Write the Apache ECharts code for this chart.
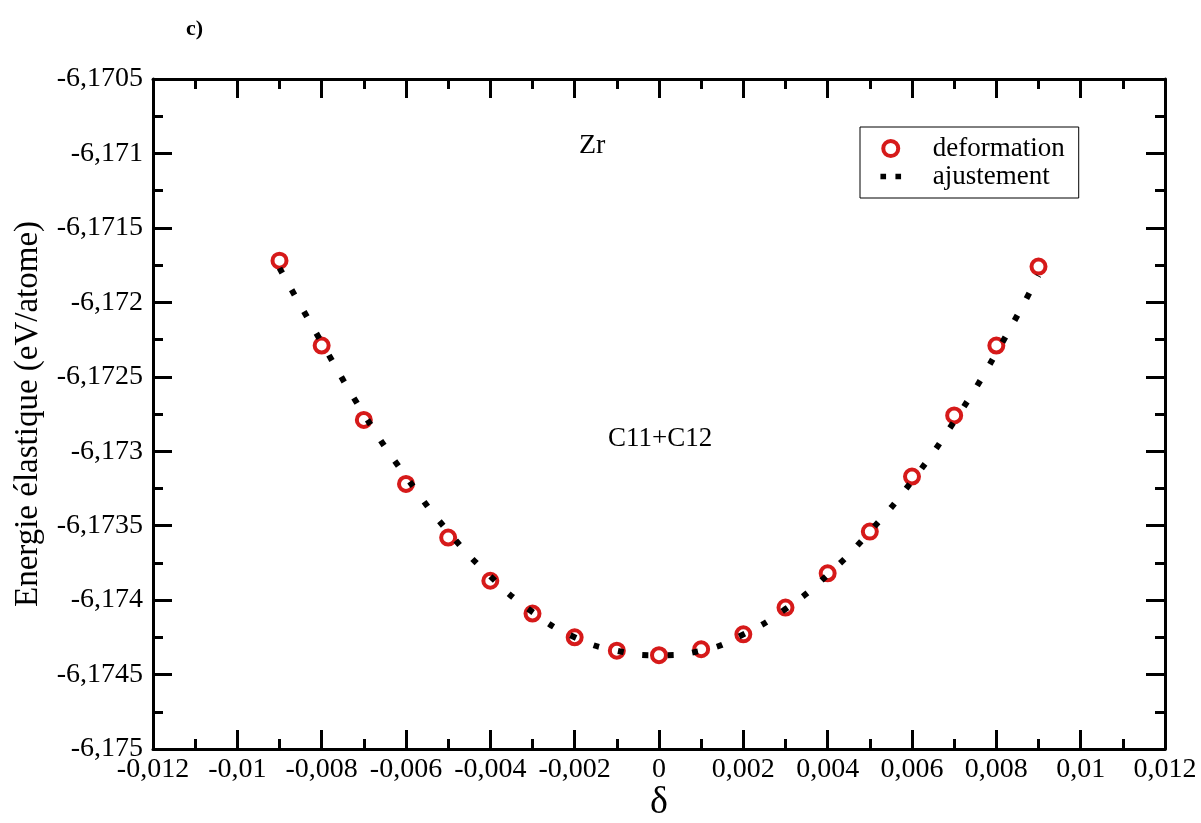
<!DOCTYPE html>
<html>
<head>
<meta charset="utf-8">
<title>Zr C11+C12</title>
<script src="https://cdn.jsdelivr.net/npm/echarts@6/dist/echarts.min.js"></script>
<style>
	html,body{margin:0;padding:0;background:#fff;}
	#main{width:1201px;height:823px;}
</style>
</head>
<body>
<div id="main"></div>
<script type="text/javascript">
	// deformation points (delta, energy)
	var deltaPts = [-0.009,-0.008,-0.007,-0.006,-0.005,-0.004,-0.003,-0.002,-0.001,0,0.001,0.002,0.003,0.004,0.005,0.006,0.007,0.008,0.009];
	var energyPts = [-6.17172,-6.17229,-6.17279,-6.17322,-6.17358,-6.17387,-6.17409,-6.17425,-6.17434,-6.17437,-6.17433,-6.17423,-6.17405,-6.17382,-6.17354,-6.17317,-6.17276,-6.17229,-6.17176];
	// fitted curve
	var deltaFit = [-0.009,-0.008,-0.007,-0.006,-0.005,-0.004,-0.003,-0.002,-0.001,0,0.001,0.002,0.003,0.004,0.005,0.006,0.007,0.008,0.009];
	var energyFit = [-6.17177,-6.17227,-6.17275,-6.17317,-6.17354,-6.17384,-6.17408,-6.17425,-6.17434,-6.17437,-6.17434,-6.17423,-6.17406,-6.17383,-6.17354,-6.17320,-6.17280,-6.17234,-6.17182];

	var serif = '"Liberation Serif","DejaVu Serif",serif';

	function fmt(v, d){
		if(Math.abs(v) < 1e-12) return '0';
		var s = v.toFixed(d);
		s = s.replace(/0+$/,'').replace(/\.$/,'');
		return s.replace('.', ',');
	}

	var ptsData = [], fitData = [];
	for(var i=0;i<deltaPts.length;i++){
		ptsData.push([deltaPts[i], energyPts[i]]);
	}
	for(var j=0;j<deltaFit.length;j++){
		fitData.push([deltaFit[j], energyFit[j]]);
	}

	var axisBase = {
		type:'value',
		axisLine:{show:true,onZero:false,lineStyle:{color:'#000',width:3}},
		axisTick:{show:true,inside:true,length:19,lineStyle:{color:'#000',width:3}},
		minorTick:{show:true,splitNumber:2,length:10,lineStyle:{color:'#000',width:3}},
		splitLine:{show:false}
	};

	// two small squares for the dotted fit line in the legend (M moves fix the icon box)
	var dotsIcon = 'path://M0 0M40 16M9 5h6v6h-6zM25 5h6v6h-6z';

	var chart = echarts.init(document.getElementById('main'));
	var option = {
		backgroundColor:'#fff',
		animation:false,
		grid:{left:153,top:79,right:36,bottom:74,outerBoundsMode:'none'},
		title:[
			{text:'c)',left:181,top:13,textStyle:{fontFamily:serif,fontSize:22,fontWeight:'bold',color:'#000'}},
			{text:'Zr',left:574,top:127,textStyle:{fontFamily:serif,fontSize:28,fontWeight:'normal',color:'#000'}},
			{text:'C11+C12',left:603,top:420,textStyle:{fontFamily:serif,fontSize:27,fontWeight:'normal',color:'#000'}}
		],
		legend:{
			orient:'vertical',
			left:860,top:127,
			padding:[8,14,8,12],
			itemGap:1,
			itemWidth:40,itemHeight:15,
			borderColor:'#000',borderWidth:1,
			textStyle:{fontFamily:serif,fontSize:27,lineHeight:27,color:'#000',padding:[0,0,0,17]},
			data:[
				{name:'deformation',icon:'circle',itemStyle:{color:'#fff',borderColor:'#d61a1a',borderWidth:4}},
				{name:'ajustement',icon:dotsIcon,itemStyle:{color:'#000',borderWidth:0}}
			]
		},
		xAxis:[
			Object.assign({}, axisBase, {
				min:-0.012,max:0.012,interval:0.002,position:'bottom',
				name:'δ',nameLocation:'middle',nameGap:35,nameMoveOverlap:false,
				nameTextStyle:{fontFamily:serif,fontSize:38,color:'#000'},
				axisLabel:{margin:7,fontFamily:serif,fontSize:28,color:'#000',formatter:function(v){return fmt(v,3);}}
			}),
			Object.assign({}, axisBase, {
				min:-0.012,max:0.012,interval:0.002,position:'top',
				axisLabel:{show:false}
			})
		],
		yAxis:[
			Object.assign({}, axisBase, {
				min:-6.175,max:-6.1705,interval:0.0005,position:'left',
				name:'Energie élastique (eV/atome)',nameLocation:'middle',nameGap:108,
				nameTextStyle:{fontFamily:serif,fontSize:33,color:'#000'},
				axisLabel:{margin:10,fontFamily:serif,fontSize:28,color:'#000',formatter:function(v){return fmt(v,4);}}
			}),
			Object.assign({}, axisBase, {
				min:-6.175,max:-6.1705,interval:0.0005,position:'right',
				axisLabel:{show:false}
			})
		],
		series:[
			{
				name:'deformation',
				type:'scatter',
				data:ptsData,
				symbol:'circle',
				symbolSize:14,
				itemStyle:{color:'#fff',borderColor:'#d61a1a',borderWidth:4,opacity:1},
				z:2
			},
			{
				name:'ajustement',
				type:'line',
				data:fitData,
				smooth:true,
				showSymbol:false,
				symbol:'none',
				itemStyle:{color:'#000'},
				lineStyle:{color:'#000',width:6,type:[6,19],cap:'butt'},
				z:3
			}
		]
	};
	chart.setOption(option);
</script>
</body>
</html>
